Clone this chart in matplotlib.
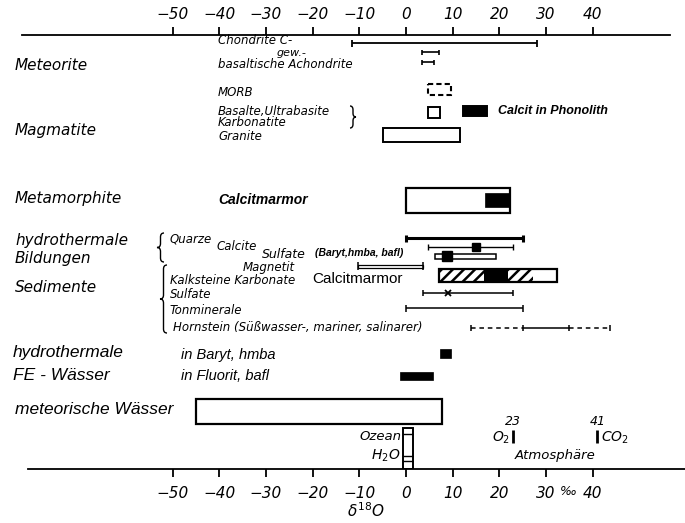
import matplotlib
matplotlib.use("Agg")
import matplotlib.pyplot as plt
import matplotlib.transforms as mtransforms
from matplotlib.path import Path
from matplotlib.patches import PathPatch

# ---- delta-18O ranges (per mil, SMOW) ----
ticks = [-50, -40, -30, -20, -10, 0, 10, 20, 30, 40]
tick_labels = ['−50', '−40', '−30', '−20', '−10', '0', '10', '20', '30', '40']

chondrite_c = (-11.5, 28.0)
chondrite_gew = (3.5, 7.0)
achondrite = (3.5, 6.0)
morb = (4.7, 9.7)
basalte = (4.7, 7.3)
calcit_phonolith = (12.2, 17.3)
granite = (-5.0, 11.6)
marmor_meta = (0.0, 22.3)
marmor_meta_core = (17.0, 22.0)
quarze = (0.0, 25.0)
calcite_hydro = (4.7, 23.0)
calcite_hydro_mode = 15.0
sulfate_hydro = (6.2, 19.3)
sulfate_hydro_mode = 8.8
magnetit = (-10.3, 3.6)
karbonate_edges = [7.1, 16.7, 21.8, 27.2, 32.3]
karbonate_kinds = ['hatch', 'solid', 'hatch', 'open']
sulfate_sed = (3.6, 23.0)
sulfate_sed_mode = 9.0
tonminerale = (0.0, 25.0)
hornstein = [14.0, 25.0, 35.0, 43.7]
baryt_fluid = (7.3, 9.6)
fluorit_fluid = (-1.3, 5.8)
meteoric = (-45.0, 7.7)
ocean = (-0.6, 1.5)
atm_o2 = 23
atm_co2 = 41

# ---- page layout (pixel rows/columns of a 685 x 523 sheet) ----
W, H = 685, 523
ZERO_PX, PX_PER_UNIT = 406.0, 4.67
AX_LEFT, AX_TOP, AX_BOTTOM = 20, 35, 469

plt.rcParams['hatch.linewidth'] = 1.8
plt.rcParams['mathtext.fontset'] = 'dejavusans'

fig = plt.figure(figsize=(W / 100, H / 100), dpi=100)
ax = fig.add_axes([AX_LEFT / W, 1 - AX_BOTTOM / H, (W - AX_LEFT) / W, (AX_BOTTOM - AX_TOP) / H])
ax.set_xlim((AX_LEFT - ZERO_PX) / PX_PER_UNIT, (W - ZERO_PX) / PX_PER_UNIT)
ax.set_ylim(AX_BOTTOM, AX_TOP)
ax.patch.set_visible(False)
for side in ('left', 'right', 'top'):
    ax.spines[side].set_visible(False)
ax.spines['bottom'].set_linewidth(1.3)
ax.spines['bottom'].set_bounds(-81.0, 59.7)
ax.set_yticks([])

tick_font = dict(family='DejaVu Sans', style='italic', size=11)
ax.set_xticks(ticks, labels=tick_labels, **tick_font)
ax.tick_params(axis='x', direction='out', length=6, width=1.3, pad=6)

top = ax.secondary_xaxis('top')
top.set_xticks(ticks, labels=tick_labels, **tick_font)
top.tick_params(axis='x', direction='out', length=6, width=1.3, pad=3)
top.spines['top'].set_linewidth(1.3)
top.spines['top'].set_bounds(-82.2, 56.5)

ax.text(33.0, 491, '‰', ha='left', va='center', family='DejaVu Sans', style='italic', size=9)
ax.text(-8.5, 511, r'$\delta^{18}O$', ha='center', va='center', fontsize=11)

pix = mtransforms.Affine2D().scale(1 / W, -1 / H).translate(0, 1) + fig.transFigure

din = dict(family='DejaVu Sans', style='italic')
ari = dict(family='Liberation Sans', style='italic')


def label(x, y, s, size, font=din, **kw):
    ax.text(x, y, s, transform=pix, fontsize=size, va='center', ha=kw.pop('ha', 'left'),
            clip_on=False, **font, **kw)


def span(rng, y, lw=1.2, cap=3.5, ls='-'):
    lo, hi = rng
    ax.hlines(y, lo, hi, colors='k', lw=lw, linestyles=ls)
    ax.vlines([lo, hi], y - cap, y + cap, colors='k', lw=lw)


def box(rng, y0, y1, fc='white', lw=1.4, ls='-', hatch=None):
    lo, hi = rng
    ax.barh((y0 + y1) / 2, hi - lo, left=lo, height=y1 - y0, facecolor=fc,
            edgecolor='k', linewidth=lw, linestyle=ls, hatch=hatch)


def brace(x, y0, y1, w, tip_left=True):
    ym = (y0 + y1) / 2
    r = min(4.0, (y1 - y0) / 6)
    s = 1 if tip_left else -1
    xe, xm, xt = x + s * w, x + s * w / 2, x
    verts = [(xe, y0), (xm, y0), (xm, y0 + r), (xm, ym - r), (xm, ym), (xt, ym),
             (xm, ym), (xm, ym + r), (xm, y1 - r), (xm, y1), (xe, y1)]
    codes = [Path.MOVETO, Path.CURVE3, Path.CURVE3, Path.LINETO, Path.CURVE3, Path.CURVE3,
             Path.CURVE3, Path.CURVE3, Path.LINETO, Path.CURVE3, Path.CURVE3]
    fig.add_artist(PathPatch(Path(verts, codes), transform=pix, fill=False, lw=1.0, ec='k'))


# ---- Meteorite ----
label(15, 66, 'Meteorite', 11)
label(218, 41, 'Chondrite C-', 8.5)
label(277, 53, 'gew.-', 8)
label(218, 65, 'basaltische Achondrite', 8.5)
span(chondrite_c, 43, lw=1.3)
span(chondrite_gew, 52, lw=1.2, cap=2.5)
span(achondrite, 62, lw=1.2, cap=2.5)

# ---- Magmatite ----
label(15, 130, 'Magmatite', 11)
label(218, 93, 'MORB', 8.5)
label(218, 111, 'Basalte,Ultrabasite', 8.5)
label(218, 123, 'Karbonatite', 8.5)
label(218, 136, 'Granite', 8.5)
brace(356, 106, 128, 6, tip_left=False)
box(morb, 84, 95, ls=(0, (2.5, 1.5)), lw=1.5)
box(basalte, 107, 118)
box(calcit_phonolith, 106, 116, fc='k')
ax.text(calcit_phonolith[1] + 2.3, 111, 'Calcit in Phonolith', fontsize=9, va='center',
        family='Liberation Sans', style='italic', weight='bold')
box(granite, 128, 142)

# ---- Metamorphite ----
label(15, 198, 'Metamorphite', 11)
label(218, 200, 'Calcitmarmor', 10, font=ari, weight='bold')
box(marmor_meta, 188, 213, lw=1.6)
box(marmor_meta_core, 193, 207, fc='k', lw=0.5)

# ---- hydrothermale Bildungen ----
label(15, 241, 'hydrothermale', 11)
label(15, 259, 'Bildungen', 11)
brace(157, 233, 262, 7)
label(170, 239, 'Quarze', 8.5)
label(217, 246, 'Calcite', 8.5)
label(262, 255, 'Sulfate', 9)
label(315, 253, '(Baryt,hmba, bafl)', 7.5, font=ari, weight='bold')
label(243, 267, 'Magnetit', 8.5)
span(quarze, 238, lw=2.2, cap=3.5)
span(calcite_hydro, 247, lw=1.0, cap=3)
ax.plot([calcite_hydro_mode], [247], marker='s', ms=6, color='k')
box(sulfate_hydro, 253.5, 258.5, lw=1.1)
ax.plot([sulfate_hydro_mode], [256], marker='s', ms=6.5, color='k')
box(magnetit, 264.5, 267.5, lw=0.9)
ax.vlines(magnetit, 262, 270, colors='k', lw=1.1)

# ---- Sedimente ----
label(15, 288, 'Sedimente', 11)
brace(160, 265, 333, 7)
label(170, 280, 'Kalksteine Karbonate', 8.5)
label(312, 279, 'Calcitmarmor', 11, font=dict(family='Liberation Sans'))
label(170, 295, 'Sulfate', 8.5)
label(170, 310, 'Tonminerale', 8.5)
label(173, 328, 'Hornstein (Süßwasser-, mariner, salinarer)', 8.5)
for lo, hi, kind in zip(karbonate_edges[:-1], karbonate_edges[1:], karbonate_kinds):
    if kind == 'hatch':
        box((lo, hi), 269, 282, hatch='///', lw=0)
    elif kind == 'solid':
        box((lo, hi), 269, 282, fc='k', lw=0)
box((karbonate_edges[0], karbonate_edges[-1]), 269, 282, fc='none', lw=1.6)
span(sulfate_sed, 293, lw=1.1, cap=3)
ax.plot([sulfate_sed_mode], [293], marker='x', ms=5, mew=1.3, color='k')
span(tonminerale, 308, lw=1.1, cap=3.5)
ax.hlines(328, hornstein[0], hornstein[1], colors='k', lw=1.1, linestyles=(0, (3, 2.5)))
ax.hlines(328, hornstein[1], hornstein[2], colors='k', lw=1.1)
ax.hlines(328, hornstein[2], hornstein[3], colors='k', lw=1.1, linestyles=(0, (3, 2.5)))
ax.vlines(hornstein, 325, 331, colors='k', lw=1.1)

# ---- hydrothermale FE-Wässer ----
label(13, 353, 'hydrothermale', 12.5, font=ari)
label(13, 375, 'FE - Wässer', 12.5, font=ari)
label(181, 355, 'in Baryt, hmba', 10.5, font=ari)
label(181, 376, 'in Fluorit, bafl', 10.5, font=ari)
box(baryt_fluid, 349, 358, fc='k', lw=0.5)
box(fluorit_fluid, 372, 380, fc='k', lw=0.5)

# ---- meteorische Wässer ----
label(15, 410, 'meteorische Wässer', 12.5, font=ari)
box(meteoric, 399, 424, lw=1.6)

# ---- Ozean / Atmosphäre ----
box(ocean, 428, 469, lw=1.4)
ax.hlines([434, 456, 461], ocean[0], ocean[1], colors='k', lw=1.0)
ax.text(ocean[0] - 0.3, 436, 'Ozean', ha='right', va='center', fontsize=9.5, **din)
ax.text(ocean[0] - 0.6, 456, r'$H_2O$', ha='right', va='center', fontsize=10)
ax.vlines([atm_o2, atm_co2], 430, 443, colors='k', lw=2.0)
ax.text(atm_o2, 421, str(atm_o2), ha='center', va='center', fontsize=9, **din)
ax.text(atm_co2, 421, str(atm_co2), ha='center', va='center', fontsize=9, **din)
ax.text(atm_o2 - 0.8, 438, r'$O_2$', ha='right', va='center', fontsize=10)
ax.text(atm_co2 + 0.8, 438, r'$CO_2$', ha='left', va='center', fontsize=10)
ax.text((atm_o2 + atm_co2) / 2, 455, 'Atmosphäre', ha='center', va='center', fontsize=9.5, **din)

fig.savefig('out.png', dpi=100)
